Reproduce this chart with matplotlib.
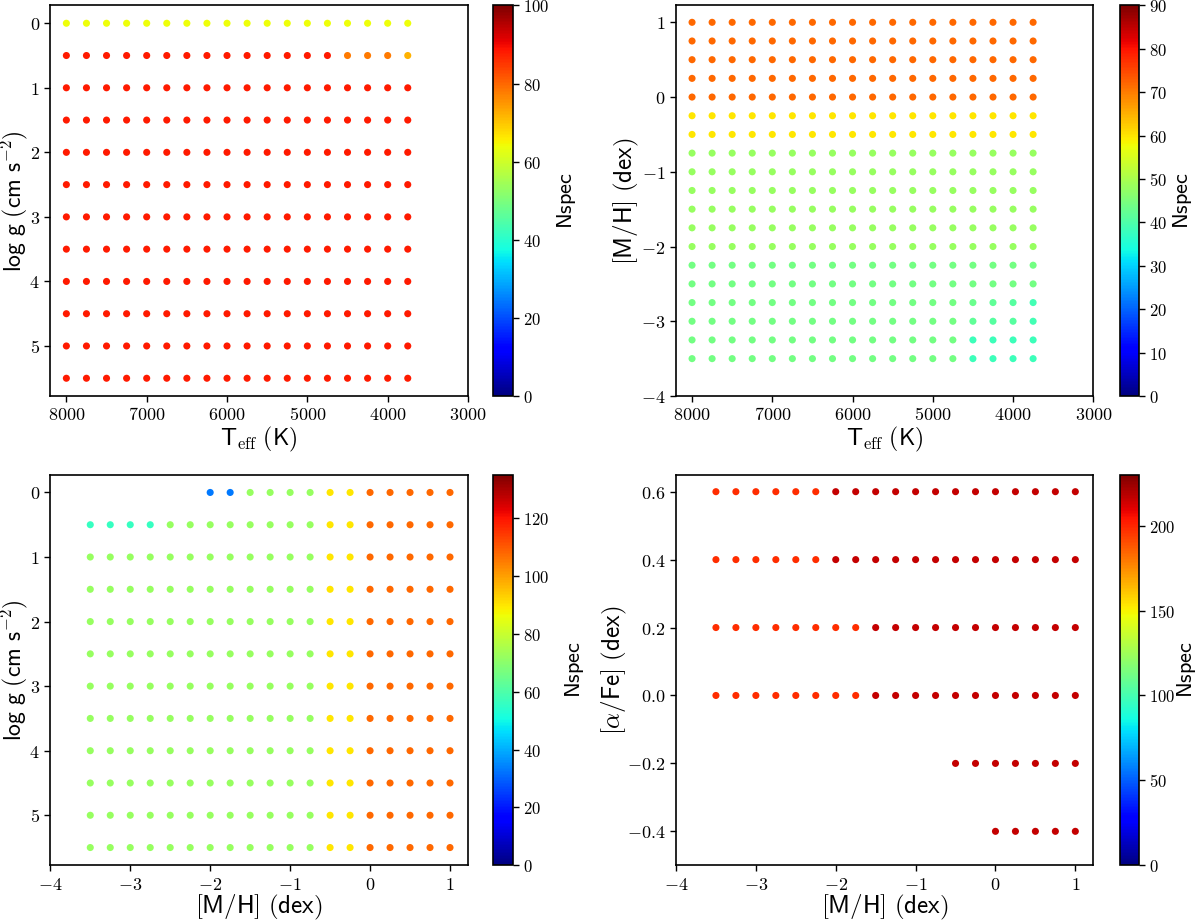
import numpy as np
import matplotlib
matplotlib.use('Agg')
import matplotlib.pyplot as plt
from matplotlib.ticker import FuncFormatter, MultipleLocator

plt.rcParams['mathtext.fontset'] = 'cm'
plt.rcParams['font.family'] = 'DejaVu Sans'

# grid axes
teff = [8000, 7750, 7500, 7250, 7000, 6750, 6500, 6250, 6000,
        5750, 5500, 5250, 5000, 4750, 4500, 4250, 4000, 3750]
logg = [0.0, 0.5, 1.0, 1.5, 2.0, 2.5, 3.0, 3.5, 4.0, 4.5, 5.0, 5.5]
mh = [-3.5, -3.25, -3.0, -2.75, -2.5, -2.25, -2.0, -1.75, -1.5, -1.25,
      -1.0, -0.75, -0.5, -0.25, 0.0, 0.25, 0.5, 0.75, 1.0]
alpha = [-0.4, -0.2, 0.0, 0.2, 0.4, 0.6]
nan = np.nan

# Nspec per (logg, Teff)  -- rows: logg, cols: teff
n_logg_teff = [
    [64, 64, 64, 64, 64, 64, 64, 64, 64, 64, 64, 64, 64, 64, 64, 64, 64, 64],
    [88, 88, 88, 88, 88, 88, 88, 88, 88, 88, 88, 88, 88, 88, 78, 78, 78, 72],
    [88, 88, 88, 88, 88, 88, 88, 88, 88, 88, 88, 88, 88, 88, 88, 88, 88, 88],
    [88, 88, 88, 88, 88, 88, 88, 88, 88, 88, 88, 88, 88, 88, 88, 88, 88, 88],
    [88, 88, 88, 88, 88, 88, 88, 88, 88, 88, 88, 88, 88, 88, 88, 88, 88, 88],
    [88, 88, 88, 88, 88, 88, 88, 88, 88, 88, 88, 88, 88, 88, 88, 88, 88, 88],
    [88, 88, 88, 88, 88, 88, 88, 88, 88, 88, 88, 88, 88, 88, 88, 88, 88, 88],
    [88, 88, 88, 88, 88, 88, 88, 88, 88, 88, 88, 88, 88, 88, 88, 88, 88, 88],
    [88, 88, 88, 88, 88, 88, 88, 88, 88, 88, 88, 88, 88, 88, 88, 88, 88, 88],
    [88, 88, 88, 88, 88, 88, 88, 88, 88, 88, 88, 88, 88, 88, 88, 88, 88, 88],
    [88, 88, 88, 88, 88, 88, 88, 88, 88, 88, 88, 88, 88, 88, 88, 88, 88, 88],
    [88, 88, 88, 88, 88, 88, 88, 88, 88, 88, 88, 88, 88, 88, 88, 88, 88, 88],
]

# Nspec per ([M/H], Teff) -- rows: mh, cols: teff
n_mh_teff = [
    [44, 44, 44, 44, 44, 44, 44, 44, 44, 44, 44, 44, 44, 44, 38, 38, 38, 38],
    [44, 44, 44, 44, 44, 44, 44, 44, 44, 44, 44, 44, 44, 44, 38, 38, 38, 38],
    [44, 44, 44, 44, 44, 44, 44, 44, 44, 44, 44, 44, 44, 44, 42, 41, 41, 39],
    [44, 44, 44, 44, 44, 44, 44, 44, 44, 44, 44, 44, 44, 44, 43, 42, 41, 39],
    [44, 44, 44, 44, 44, 44, 44, 44, 44, 44, 44, 44, 44, 44, 44, 44, 44, 44],
    [44, 44, 44, 44, 44, 44, 44, 44, 44, 44, 44, 44, 44, 44, 44, 44, 44, 44],
    [48, 48, 48, 48, 48, 48, 48, 48, 48, 48, 48, 48, 48, 48, 48, 48, 48, 48],
    [48, 48, 48, 48, 48, 48, 48, 48, 48, 48, 48, 48, 48, 48, 48, 48, 48, 48],
    [48, 48, 48, 48, 48, 48, 48, 48, 48, 48, 48, 48, 48, 48, 48, 48, 48, 48],
    [48, 48, 48, 48, 48, 48, 48, 48, 48, 48, 48, 48, 48, 48, 48, 48, 48, 48],
    [48, 48, 48, 48, 48, 48, 48, 48, 48, 48, 48, 48, 48, 48, 48, 48, 48, 48],
    [48, 48, 48, 48, 48, 48, 48, 48, 48, 48, 48, 48, 48, 48, 48, 48, 48, 48],
    [60, 60, 60, 60, 60, 60, 60, 60, 60, 60, 60, 60, 60, 60, 60, 60, 60, 60],
    [60, 60, 60, 60, 60, 60, 60, 60, 60, 60, 60, 60, 60, 60, 60, 60, 60, 60],
    [72, 72, 72, 72, 72, 72, 72, 72, 72, 72, 72, 72, 72, 72, 72, 72, 72, 72],
    [72, 72, 72, 72, 72, 72, 72, 72, 72, 72, 72, 72, 72, 72, 72, 72, 72, 72],
    [72, 72, 72, 72, 72, 72, 72, 72, 72, 72, 72, 72, 72, 72, 72, 72, 72, 72],
    [72, 72, 72, 72, 72, 72, 72, 72, 72, 72, 72, 72, 72, 72, 72, 72, 72, 72],
    [72, 72, 72, 72, 72, 72, 72, 72, 72, 72, 72, 72, 72, 72, 72, 72, 72, 72],
]

# Nspec per (logg, [M/H]) -- rows: logg, cols: mh
n_logg_mh = [
    [nan, nan, nan, nan, nan, nan, 33, 33, 72, 72, 72, 72, 90, 90, 108, 108, 108, 108, 108],
    [56, 56, 56, 56, 72, 72, 72, 72, 72, 72, 72, 72, 90, 90, 108, 108, 108, 108, 108],
    [72, 72, 72, 72, 72, 72, 72, 72, 72, 72, 72, 72, 90, 90, 108, 108, 108, 108, 108],
    [72, 72, 72, 72, 72, 72, 72, 72, 72, 72, 72, 72, 90, 90, 108, 108, 108, 108, 108],
    [72, 72, 72, 72, 72, 72, 72, 72, 72, 72, 72, 72, 90, 90, 108, 108, 108, 108, 108],
    [72, 72, 72, 72, 72, 72, 72, 72, 72, 72, 72, 72, 90, 90, 108, 108, 108, 108, 108],
    [72, 72, 72, 72, 72, 72, 72, 72, 72, 72, 72, 72, 90, 90, 108, 108, 108, 108, 108],
    [72, 72, 72, 72, 72, 72, 72, 72, 72, 72, 72, 72, 90, 90, 108, 108, 108, 108, 108],
    [72, 72, 72, 72, 72, 72, 72, 72, 72, 72, 72, 72, 90, 90, 108, 108, 108, 108, 108],
    [72, 72, 72, 72, 72, 72, 72, 72, 72, 72, 72, 72, 90, 90, 108, 108, 108, 108, 108],
    [72, 72, 72, 72, 72, 72, 72, 72, 72, 72, 72, 72, 90, 90, 108, 108, 108, 108, 108],
    [72, 72, 72, 72, 72, 72, 72, 72, 72, 72, 72, 72, 90, 90, 108, 108, 108, 108, 108],
]

# Nspec per ([alpha/Fe], [M/H]) -- rows: alpha, cols: mh
n_alpha_mh = [
    [nan, nan, nan, nan, nan, nan, nan, nan, nan, nan, nan, nan, nan, nan, 216, 216, 216, 216, 216],
    [nan, nan, nan, nan, nan, nan, nan, nan, nan, nan, nan, nan, 216, 216, 216, 216, 216, 216, 216],
    [198, 198, 198, 198, 198, 198, 198, 198, 216, 216, 216, 216, 216, 216, 216, 216, 216, 216, 216],
    [198, 198, 198, 198, 198, 198, 198, 198, 216, 216, 216, 216, 216, 216, 216, 216, 216, 216, 216],
    [198, 198, 198, 198, 198, 198, 216, 216, 216, 216, 216, 216, 216, 216, 216, 216, 216, 216, 216],
    [198, 198, 198, 198, 198, 198, 216, 216, 216, 216, 216, 216, 216, 216, 216, 216, 216, 216, 216],
]

fig = plt.figure(figsize=(12, 9.21), dpi=100)

W, H = 1200.0, 921.0
def ax_rect(x0, y0, x1, y1):
    return [x0 / W, 1 - y1 / H, (x1 - x0) / W, (y1 - y0) / H]

math_fmt = FuncFormatter(lambda v, p: '$%g$' % v)
math_fmt1 = FuncFormatter(lambda v, p: '$%.1f$' % v)

def panel(rect, cbrect, xs, ys, vals, vmax, cstep, cb_label_x):
    ax = fig.add_axes(ax_rect(*rect))
    cax = fig.add_axes(ax_rect(*cbrect))
    X, Y = np.meshgrid(xs, ys)
    V = np.array(vals, dtype=float)
    m = ~np.isnan(V)
    sc = ax.scatter(X[m], Y[m], c=V[m], cmap='jet', vmin=0, vmax=vmax,
                    s=26, linewidths=0)
    cb = fig.colorbar(sc, cax=cax)
    cb.set_ticks(np.arange(0, vmax + 0.01, cstep))
    cb.ax.yaxis.set_major_formatter(math_fmt)
    cb.ax.tick_params(labelsize=12, length=4, width=1, pad=3)
    cb.set_label(r'$\mathsf{Nspec}$', fontsize=16, va='center')
    cbw = cbrect[2] - cbrect[0]
    cb.ax.yaxis.set_label_coords((cb_label_x - cbrect[0]) / cbw, 0.5)
    cb.outline.set_linewidth(1.2)
    ax.tick_params(labelsize=13, length=4, width=1)
    for sp in ax.spines.values():
        sp.set_linewidth(1.2)
    return ax

xl_teff = r'$\mathsf{T}_{\rm eff}\ \mathsf{(K)}$'
yl_logg = r'$\mathsf{log\ g\ (cm\ s^{-2})}$'
l_mh = r'$\mathsf{[M/H]\ (dex)}$'
yl_alpha = r'$\mathsf{[}\alpha\mathsf{/Fe]\ (dex)}$'

AX_W, AX_H = 417.7, 390.5

def labels(ax, xl, yl, ylab_x):
    # label centres placed in pixels relative to the axes box
    if xl == l_mh:
        ax.set_xlabel(xl, fontsize=18, va='center')
        ax.xaxis.set_label_coords(0.5, -42.0 / AX_H)
    else:
        ax.set_xlabel(xl, fontsize=17, va='center')
        ax.xaxis.set_label_coords(0.5, -43.0 / AX_H)
    if yl == yl_logg:
        ax.set_ylabel(yl, fontsize=17, va='center')
    else:
        ax.set_ylabel(yl, fontsize=18, va='center')
    ax.yaxis.set_label_coords(-ylab_x / AX_W, 0.5)

# top left: Teff vs logg
ax1 = panel((50.3, 5.5, 468, 396), (493.3, 5.5, 513.3, 396), teff, logg,
            n_logg_teff, 100, 20, 566)
ax1.set_xlim(8200, 3000)
ax1.set_ylim(5.775, -0.275)
ax1.xaxis.set_major_locator(MultipleLocator(1000))
ax1.yaxis.set_major_locator(MultipleLocator(1))
ax1.xaxis.set_major_formatter(math_fmt)
ax1.yaxis.set_major_formatter(math_fmt)
labels(ax1, xl_teff, yl_logg, 36.5)

# top right: Teff vs [M/H]
ax2 = panel((676, 5.5, 1093.3, 396), (1120, 5.5, 1139.3, 396), teff, mh,
            n_mh_teff, 90, 10, 1183)
ax2.set_xlim(8200, 3000)
ax2.set_ylim(-4, 1.225)
ax2.xaxis.set_major_locator(MultipleLocator(1000))
ax2.yaxis.set_major_locator(MultipleLocator(1))
ax2.xaxis.set_major_formatter(math_fmt)
ax2.yaxis.set_major_formatter(math_fmt)
labels(ax2, xl_teff, l_mh, 50)

# bottom left: [M/H] vs logg
ax3 = panel((50.3, 474.7, 468, 865.3), (493.3, 474.7, 513.3, 865.3), mh, logg,
            n_logg_mh, 135, 20, 574)
ax3.set_xlim(-4, 1.225)
ax3.set_ylim(5.775, -0.275)
ax3.xaxis.set_major_locator(MultipleLocator(1))
ax3.yaxis.set_major_locator(MultipleLocator(1))
ax3.xaxis.set_major_formatter(math_fmt)
ax3.yaxis.set_major_formatter(math_fmt)
labels(ax3, l_mh, yl_logg, 36.5)

# bottom right: [M/H] vs [alpha/Fe]
ax4 = panel((676, 474.7, 1093.3, 865.3), (1120, 474.7, 1139.3, 865.3), mh, alpha,
            n_alpha_mh, 230, 50, 1186)
ax4.set_xlim(-4, 1.225)
ax4.set_ylim(-0.5, 0.65)
ax4.xaxis.set_major_locator(MultipleLocator(1))
ax4.yaxis.set_major_locator(MultipleLocator(0.2))
ax4.xaxis.set_major_formatter(math_fmt)
ax4.yaxis.set_major_formatter(math_fmt1)
labels(ax4, l_mh, yl_alpha, 62)

fig.savefig('out.png', dpi=100)
